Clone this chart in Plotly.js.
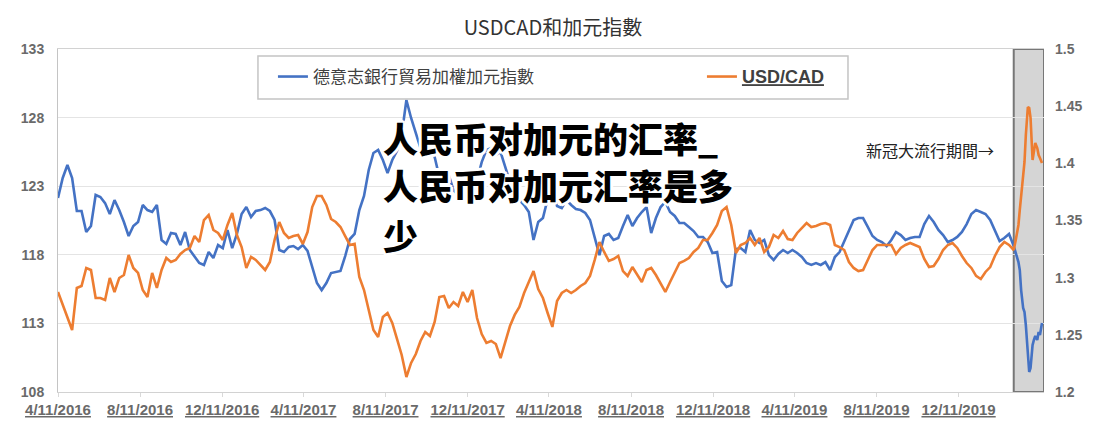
<!DOCTYPE html>
<html><head><meta charset="utf-8">
<script src="https://cdn.plot.ly/plotly-3.0.1.min.js"></script>
<style>html,body{margin:0;padding:0;background:#fff}#chart{width:1111px;height:430px}</style>
</head><body><div id="chart"></div>
<script>
// weekly observation dates, denser during the pandemic period
const dates = [
'2016-04-11','2016-04-18','2016-04-25','2016-05-02','2016-05-09','2016-05-16','2016-05-23','2016-05-30','2016-06-06','2016-06-13',
'2016-06-20','2016-06-27','2016-07-04','2016-07-11','2016-07-18','2016-07-25','2016-08-01','2016-08-08','2016-08-15','2016-08-22',
'2016-08-29','2016-09-05','2016-09-12','2016-09-19','2016-09-26','2016-10-03','2016-10-10','2016-10-17','2016-10-24','2016-10-31',
'2016-11-07','2016-11-14','2016-11-21','2016-11-28','2016-12-05','2016-12-12','2016-12-19','2016-12-26',
'2017-01-02','2017-01-09','2017-01-16','2017-01-23','2017-01-30','2017-02-06','2017-02-13','2017-02-20','2017-02-27','2017-03-06',
'2017-03-13','2017-03-20','2017-03-27','2017-04-03','2017-04-10','2017-04-17','2017-04-24','2017-05-01','2017-05-08','2017-05-15',
'2017-05-22','2017-05-29','2017-06-05','2017-06-12','2017-06-19','2017-06-26','2017-07-03','2017-07-10','2017-07-17','2017-07-24',
'2017-07-31','2017-08-07','2017-08-14','2017-08-21','2017-08-28','2017-09-04','2017-09-11','2017-09-18','2017-09-25','2017-10-02',
'2017-10-09','2017-10-16','2017-10-23','2017-10-30','2017-11-06','2017-11-13','2017-11-20','2017-11-27','2017-12-04','2017-12-11',
'2017-12-18','2017-12-25',
'2018-01-01','2018-01-08','2018-01-15','2018-01-22','2018-01-29','2018-02-05','2018-02-12','2018-02-19','2018-02-26','2018-03-05',
'2018-03-12','2018-03-19','2018-03-26','2018-04-02','2018-04-09','2018-04-16','2018-04-23','2018-04-30','2018-05-07','2018-05-14',
'2018-05-21','2018-05-28','2018-06-04','2018-06-11','2018-06-18','2018-06-25','2018-07-02','2018-07-09','2018-07-16','2018-07-23',
'2018-07-30','2018-08-06','2018-08-13','2018-08-20','2018-08-27','2018-09-03','2018-09-10','2018-09-17','2018-09-24','2018-10-01',
'2018-10-08','2018-10-15','2018-10-22','2018-10-29','2018-11-05','2018-11-12','2018-11-19','2018-11-26','2018-12-03','2018-12-10',
'2018-12-17','2018-12-24','2018-12-31',
'2019-01-07','2019-01-14','2019-01-21','2019-01-28','2019-02-04','2019-02-11','2019-02-18','2019-02-25','2019-03-04','2019-03-11',
'2019-03-18','2019-03-25','2019-04-01','2019-04-08','2019-04-15','2019-04-22','2019-04-29','2019-05-06','2019-05-13','2019-05-20',
'2019-05-27','2019-06-03','2019-06-10','2019-06-17','2019-06-24','2019-07-01','2019-07-08','2019-07-15','2019-07-22','2019-07-29',
'2019-08-05','2019-08-12','2019-08-19','2019-08-26','2019-09-02','2019-09-09','2019-09-16','2019-09-23','2019-09-30','2019-10-07',
'2019-10-14','2019-10-21','2019-10-28','2019-11-04','2019-11-11','2019-11-18','2019-11-25','2019-12-02','2019-12-09','2019-12-16',
'2019-12-23','2019-12-30',
'2020-01-06','2020-01-13','2020-01-20','2020-01-27','2020-02-03','2020-02-10','2020-02-17','2020-02-24','2020-03-02',
'2020-03-05','2020-03-09','2020-03-11','2020-03-13','2020-03-16','2020-03-18','2020-03-20','2020-03-23','2020-03-25','2020-03-27',
'2020-03-30','2020-04-01','2020-04-03','2020-04-06','2020-04-08','2020-04-10','2020-04-13'
];

// Deutsche Bank trade-weighted CAD index (left axis)
const cadIndex = [
122.14,123.60,124.54,123.60,121.19,121.19,119.66,120.10,122.36,122.21,
121.77,120.97,121.99,121.26,120.39,119.37,120.10,120.39,121.63,121.26,
121.12,121.63,119.08,118.79,119.59,119.52,118.71,119.66,118.35,117.84,
117.40,117.26,118.20,117.77,118.71,118.49,119.81,118.49,119.52,120.97,
121.48,120.75,121.19,121.26,121.41,121.19,120.54,118.35,118.20,118.57,
118.64,118.42,118.71,118.28,117.11,115.94,115.43,115.94,116.67,116.75,
116.82,117.91,119.15,119.52,121.26,122.29,124.18,125.42,125.64,124.91,
123.96,124.91,125.57,126.73,129.28,127.97,126.95,125.78,125.27,125.78,
125.13,123.67,123.82,123.82,122.72,122.36,122.36,122.50,121.77,123.45,
124.76,125.64,125.78,125.27,125.49,124.47,123.31,122.87,121.99,121.63,
121.12,119.08,120.39,120.68,122.07,122.65,121.56,121.41,121.99,121.63,
121.34,121.26,121.05,120.54,119.22,117.98,119.37,119.52,119.08,119.22,
120.10,120.90,120.10,120.68,121.12,121.48,119.59,120.68,121.48,121.85,
121.12,120.83,120.32,120.32,120.03,119.73,119.30,119.30,118.93,118.13,
118.20,116.09,115.65,115.79,118.42,118.49,118.20,119.81,119.08,118.86,
119.08,117.98,117.62,118.06,118.35,118.13,118.35,118.13,117.84,117.40,
117.26,117.40,117.26,117.47,116.89,117.84,118.20,119.00,119.81,120.54,
120.68,120.68,120.03,119.37,119.08,118.93,118.64,119.08,119.66,119.44,
119.08,119.22,119.30,119.30,120.24,120.83,120.39,119.81,119.44,118.93,
119.08,119.30,119.66,120.24,120.97,121.26,121.12,120.97,120.54,119.73,
119.00,119.22,119.52,118.64,
118.20,117.47,116.89,115.43,114.12,113.83,112.88,110.70,109.46,109.75,
111.42,111.79,112.08,111.79,112.37,112.15,113.03
];

// USD/CAD exchange rate (right axis)
const usdcad = [
1.2875,1.2761,1.2647,1.2542,1.2910,1.2927,1.3085,1.3067,1.2822,1.2822,
1.2805,1.2997,1.2875,1.2997,1.3023,1.3198,1.3085,1.3041,1.2892,1.2831,
1.3041,1.2910,1.3067,1.3172,1.3137,1.3155,1.3207,1.3242,1.3260,1.3364,
1.3312,1.3504,1.3548,1.3417,1.3391,1.3330,1.3461,1.3566,1.3373,1.3268,
1.3085,1.3181,1.3155,1.3111,1.3067,1.3137,1.3330,1.3487,1.3391,1.3347,
1.3364,1.3373,1.3295,1.3399,1.3618,1.3714,1.3714,1.3636,1.3513,1.3487,
1.3443,1.3364,1.3286,1.3295,1.3006,1.2892,1.2717,1.2542,1.2481,1.2656,
1.2691,1.2604,1.2464,1.2324,1.2131,1.2254,1.2332,1.2446,1.2525,1.2490,
1.2612,1.2831,1.2840,1.2735,1.2787,1.2752,1.2875,1.2787,1.2892,1.2647,
1.2507,1.2429,1.2446,1.2420,1.2297,1.2429,1.2577,1.2674,1.2744,1.2866,
1.2962,1.3058,1.2901,1.2822,1.2691,1.2569,1.2796,1.2866,1.2892,1.2866,
1.2892,1.2927,1.2953,1.3015,1.3155,1.3312,1.3225,1.3146,1.3163,1.3190,
1.3058,1.3015,1.3093,1.3032,1.2962,1.3067,1.3085,1.3023,1.2945,1.2875,
1.2962,1.3041,1.3128,1.3146,1.3172,1.3225,1.3260,1.3330,1.3330,1.3391,
1.3461,1.3583,1.3618,1.3461,1.3216,1.3286,1.3303,1.3347,1.3286,1.3347,
1.3225,1.3268,1.3373,1.3347,1.3408,1.3338,1.3330,1.3391,1.3434,1.3478,
1.3443,1.3452,1.3469,1.3478,1.3461,1.3286,1.3268,1.3242,1.3137,1.3085,
1.3058,1.3067,1.3155,1.3242,1.3286,1.3286,1.3286,1.3286,1.3207,1.3260,
1.3286,1.3303,1.3286,1.3268,1.3163,1.3093,1.3102,1.3163,1.3242,1.3286,
1.3303,1.3260,1.3190,1.3128,1.3085,1.3015,1.2988,1.3050,1.3093,1.3190,
1.3268,1.3312,1.3286,1.3242,
1.3330,1.3461,1.3592,1.3697,1.3898,1.4012,1.4248,1.4493,1.4484,1.4397,
1.4029,1.4117,1.4178,1.4134,1.4073,1.4047,1.4003
];

const seriesNames = ['德意志銀行貿易加權加元指數', 'USD/CAD'];
const tickDates = ['2016-04-11','2016-08-11','2016-12-11','2017-04-11','2017-08-11','2017-12-11',
                   '2018-04-11','2018-08-11','2018-12-11','2019-04-11','2019-08-11','2019-12-11'];
const tickLabels = ['4/11/2016','8/11/2016','12/11/2016','4/11/2017','8/11/2017','12/11/2017',
                    '4/11/2018','8/11/2018','12/11/2018','4/11/2019','8/11/2019','12/11/2019'];
const leftTicks = [108, 113, 118, 123, 128, 133];
const rightTicks = [1.2, 1.25, 1.3, 1.35, 1.4, 1.45, 1.5];
const rightTickLabels = ['1.2', '1.25', '1.3', '1.35', '1.4', '1.45', '1.5'];
const xStart = '2016-04-11', xEnd = '2020-04-16';
const covidStart = '2020-03-02';
const titleText = 'USDCAD和加元指數';
const covidNote = '新冠大流行期間→';
const overlayLines = ['人民币对加元的汇率_', '人民币对加元汇率是多', '少'];

const BLUE = '#4472C4', ORANGE = '#ED7D31';
const tickFont = {family: 'Liberation Sans', size: 14, color: '#6a6a6a', weight: 'bold'};

const traces = [
  {x: dates, y: cadIndex, name: seriesNames[0], type: 'scatter', mode: 'lines',
   line: {color: BLUE, width: 2.6}, yaxis: 'y', hoverinfo: 'skip', legendwidth: 384},
  {x: dates, y: usdcad,
   name: '<span style="font-family:Liberation Sans;font-weight:bold;font-size:18px;text-decoration:underline">' + seriesNames[1] + '</span>',
   type: 'scatter', mode: 'lines', line: {color: ORANGE, width: 2.6}, yaxis: 'y2', hoverinfo: 'skip'}
];

const shadow = '2px 2px 0 #fff, -2px -2px 0 #fff, 2px -2px 0 #fff, -2px 2px 0 #fff, 0 3px 0 #fff, 0 -3px 0 #fff, 3px 0 0 #fff, -3px 0 0 #fff';
const overlayY = [0.7434, 0.6064, 0.4606];

const annotations = overlayLines.map((t, k) => ({
  text: t, xref: 'paper', yref: 'paper', x: 0.3276, y: overlayY[k],
  xanchor: 'left', yanchor: 'middle', showarrow: false,
  font: {family: 'Noto Sans CJK SC', size: 35, color: '#000', weight: 900, shadow: shadow}
}));
annotations.push({
  text: covidNote, xref: 'paper', yref: 'paper', x: 0.8844, y: 0.7055,
  xanchor: 'center', yanchor: 'middle', showarrow: false,
  font: {family: 'Noto Sans CJK TC', size: 16, color: '#222'}
});

const layout = {
  width: 1111, height: 430,
  margin: {l: 58, r: 67, t: 49, b: 38, pad: 0},
  paper_bgcolor: '#fff', plot_bgcolor: '#fff',
  title: {text: titleText, x: 0.4977, xref: 'container', xanchor: 'center',
          y: 0.935, yref: 'container', yanchor: 'middle',
          font: {family: 'Noto Sans CJK TC', size: 20, color: '#333'}},
  xaxis: {type: 'date', range: [xStart, xEnd], tickmode: 'array', tickvals: tickDates, ticktext: tickLabels,
          tickfont: Object.assign({}, tickFont, {size: 15, lineposition: 'under'}),
          showgrid: false, showline: true, mirror: true, linecolor: '#d2d2d2', linewidth: 1,
          ticks: 'outside', ticklen: 4, tickcolor: '#d9d9d9', zeroline: false},
  yaxis: {range: [108, 133], tickmode: 'array', tickvals: leftTicks, tickfont: tickFont,
          showgrid: true, gridcolor: '#e4e4e4', gridwidth: 1, zeroline: false,
          showline: true, linecolor: '#c4c4c4', linewidth: 1, ticks: '', ticklabelstandoff: 10},
  yaxis2: {range: [1.2, 1.5], overlaying: 'y', side: 'right', tickmode: 'array', tickvals: rightTicks,
           ticktext: rightTickLabels, tickfont: tickFont, showgrid: false, zeroline: false,
           showline: false, ticks: '', ticklabelstandoff: 10},
  showlegend: true,
  legend: {orientation: 'h', x: 0.218, xanchor: 'left', y: 0.9184, yanchor: 'middle',
           bgcolor: 'rgba(0,0,0,0)', borderwidth: 0,
           font: {family: 'Noto Sans CJK TC', size: 17, color: '#404040'}},
  shapes: [
    {type: 'rect', xref: 'x', yref: 'paper', x0: covidStart, x1: xEnd, y0: 0, y1: 1,
     fillcolor: '#d5d5d5', line: {color: '#777', width: 2}, layer: 'between'},
    {type: 'rect', xref: 'paper', yref: 'paper', x0: 0.2028, x1: 0.8012, y0: 0.8542, y1: 0.9796,
     fillcolor: '#fff', line: {color: '#c4c4c4', width: 1.5}, layer: 'above'}
  ],
  annotations: annotations
};

Plotly.newPlot('chart', traces, layout, {staticPlot: true, displayModeBar: false});
</script>
</body></html>
